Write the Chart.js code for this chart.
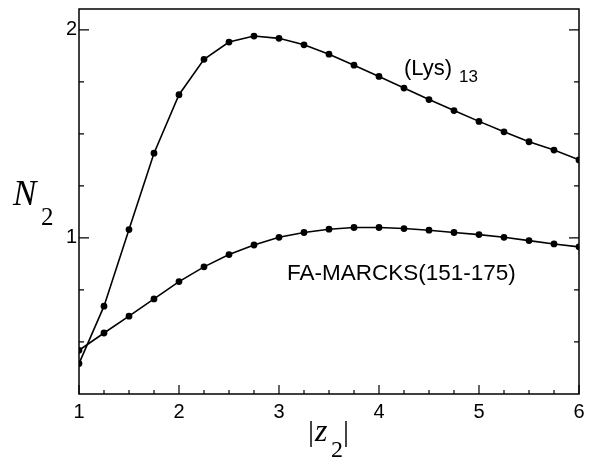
<!DOCTYPE html>
<html>
<head>
<meta charset="utf-8">
<script src="https://cdn.jsdelivr.net/npm/chart.js@4/dist/chart.umd.min.js"></script>
<style>
html,body{margin:0;padding:0;background:#fff;}
#wrap{width:592px;height:458px;position:relative;}
</style>
</head>
<body>
<div id="wrap"><canvas id="c" width="592" height="458"></canvas></div>
<script>
const zValues = [1, 1.25, 1.5, 1.75, 2, 2.25, 2.5, 2.75, 3, 3.25, 3.5, 3.75, 4, 4.25, 4.5, 4.75, 5, 5.25, 5.5, 5.75, 6];
const lysValues = [0.396, 0.672, 1.04, 1.407, 1.688, 1.858, 1.941, 1.970, 1.959, 1.928, 1.883, 1.830, 1.776, 1.720, 1.665, 1.612, 1.560, 1.510, 1.462, 1.422, 1.375];
const marcksValues = [0.46, 0.543, 0.624, 0.707, 0.790, 0.861, 0.920, 0.966, 1.003, 1.026, 1.042, 1.050, 1.050, 1.045, 1.037, 1.026, 1.016, 1.003, 0.987, 0.971, 0.957];
const xTickLabels = ['1', '2', '3', '4', '5', '6'];
const yTickLabels = ['1', '2'];
const seriesNames = ['(Lys)13', 'FA-MARCKS(151-175)'];

function pts(ys){ return zValues.map((x,i)=>({x:x, y:ys[i]})); }

const frame = {
  id: 'frame',
  afterDraw(chart){
    const ctx = chart.ctx, a = chart.chartArea;
    const xs = chart.scales.x, ys = chart.scales.y;
    ctx.save();
    ctx.strokeStyle = '#000';
    ctx.lineWidth = 1.5;
    ctx.strokeRect(a.left, a.top, a.right - a.left, a.bottom - a.top);
    ctx.lineWidth = 1.2;
    ctx.beginPath();
    for (let v = 1; v <= 6.001; v += 0.25) {
      const px = xs.getPixelForValue(v);
      const major = Math.abs(v - Math.round(v)) < 1e-6;
      const len = major ? 9 : 4;
      ctx.moveTo(px, a.bottom); ctx.lineTo(px, a.bottom - len);
    }
    for (let v = 0.5; v <= 2.001; v += 0.25) {
      const py = ys.getPixelForValue(v);
      const major = Math.abs(v - Math.round(v)) < 1e-6;
      const len = major ? 10 : 5;
      ctx.moveTo(a.left, py); ctx.lineTo(a.left + len, py);
      ctx.moveTo(a.right, py); ctx.lineTo(a.right - len, py);
    }
    ctx.stroke();

    ctx.fillStyle = '#000';
    ctx.textBaseline = 'alphabetic';
    // series annotations
    ctx.font = '22px "Liberation Sans", Arial, sans-serif';
    ctx.textAlign = 'left';
    ctx.fillText('(Lys)', 404, 75);
    ctx.font = '17px "Liberation Sans", Arial, sans-serif';
    ctx.fillText('13', 459, 82);
    ctx.font = '22.5px "Liberation Sans", Arial, sans-serif';
    ctx.fillText('FA-MARCKS(151-175)', 287, 280);

    // y title N_2
    ctx.font = 'italic 35px "Liberation Serif", "Times New Roman", serif';
    ctx.fillText('N', 13, 205);
    ctx.font = '25px "Liberation Serif", "Times New Roman", serif';
    ctx.fillText('2', 41, 225);

    // x title |z_2|
    ctx.font = '30px "Liberation Serif", "Times New Roman", serif';
    ctx.fillText('|', 308, 441);
    ctx.font = 'italic 32px "Liberation Serif", "Times New Roman", serif';
    ctx.fillText('z', 315, 441);
    ctx.font = '24px "Liberation Serif", "Times New Roman", serif';
    ctx.fillText('2', 331, 457);
    ctx.font = '30px "Liberation Serif", "Times New Roman", serif';
    ctx.fillText('|', 343, 441);
    ctx.restore();
  }
};

new Chart(document.getElementById('c'), {
  type: 'line',
  data: {
    datasets: [
      { label: seriesNames[0], data: pts(lysValues), borderColor: '#000', backgroundColor: '#000', borderWidth: 1.6, pointRadius: 2.6, pointHoverRadius: 2.6, tension: 0, fill: false },
      { label: seriesNames[1], data: pts(marcksValues), borderColor: '#000', backgroundColor: '#000', borderWidth: 1.6, pointRadius: 2.6, pointHoverRadius: 2.6, tension: 0, fill: false }
    ]
  },
  options: {
    responsive: false,
    animation: false,
    events: [],
    layout: { padding: { top: 9, right: 13, left: 0, bottom: 0 } },
    plugins: { legend: { display: false }, tooltip: { enabled: false } },
    scales: {
      x: {
        type: 'linear', min: 1, max: 6,
        grid: { display: false, drawTicks: false },
        border: { display: false },
        afterBuildTicks(s){ s.ticks = xTickLabels.map(t => ({ value: Number(t) })); },
        afterFit(s){ s.height = 64; s.paddingLeft = 0; s.paddingRight = 0; },
        ticks: { color: '#000', padding: 6, maxRotation: 0, font: { family: '"Liberation Sans", Arial, sans-serif', size: 20 }, callback: v => String(v) }
      },
      y: {
        type: 'linear', min: 0.25, max: 2.1,
        grid: { display: false, drawTicks: false },
        border: { display: false },
        afterBuildTicks(s){ s.ticks = yTickLabels.map(t => ({ value: Number(t) })); },
        afterFit(s){ s.width = 79; s.paddingTop = 0; s.paddingBottom = 0; },
        ticks: { color: '#000', padding: 2, font: { family: '"Liberation Sans", Arial, sans-serif', size: 20 }, callback: v => String(v) }
      }
    }
  },
  plugins: [frame]
});
</script>
</body>
</html>
